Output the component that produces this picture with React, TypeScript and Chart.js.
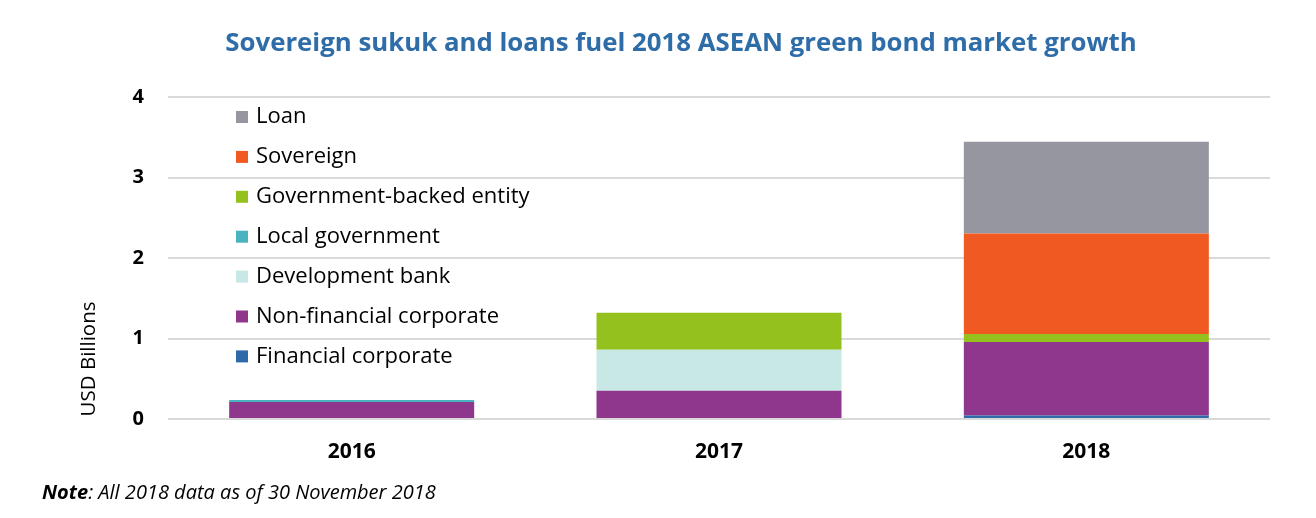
import React, { useEffect, useRef } from "react";
import { Chart, registerables } from "chart.js";

Chart.register(...registerables);

const categories = ["2016", "2017", "2018"];
const seriesNames = [
  "Financial corporate",
  "Non-financial corporate",
  "Development bank",
  "Local government",
  "Government-backed entity",
  "Sovereign",
  "Loan",
];
const financialCorporate = [0, 0, 0.045];
const nonFinancialCorporate = [0.21, 0.35, 0.91];
const developmentBank = [0, 0.51, 0];
const localGovernment = [0.025, 0, 0];
const governmentBacked = [0, 0.46, 0.1];
const sovereign = [0, 0, 1.25];
const loan = [0, 0, 1.14];
const yTicks = [0, 1, 2, 3, 4];
const colors = ["#2E69A8", "#8F378D", "#C8E8E6", "#4BB3BF", "#95C11F", "#F05A22", "#9696A0"];

const titleText = "Sovereign sukuk and loans fuel 2018 ASEAN green bond market growth";
const yAxisTitle = "USD Billions";

const FONT = "'Open Sans', Lato, sans-serif";

const overlayPlugin = {
  id: "overlay",
  afterDraw(chart: any) {
    const ctx = chart.ctx;
    const area = chart.chartArea;
    ctx.save();
    // Title
    ctx.fillStyle = "#2E6DA8";
    ctx.font = `bold 25.8px ${FONT}`;
    ctx.textAlign = "center";
    ctx.textBaseline = "middle";
    ctx.fillText(titleText, 681, 44);
    // Y axis title
    ctx.save();
    ctx.translate(89, 359);
    ctx.rotate(-Math.PI / 2);
    ctx.fillStyle = "#000";
    ctx.font = `20.5px ${FONT}`;
    ctx.textAlign = "center";
    ctx.textBaseline = "middle";
    ctx.fillText(yAxisTitle, 0, 0);
    ctx.restore();
    // Legend (reverse order)
    const ds = chart.data.datasets;
    ctx.font = `22px ${FONT}`;
    ctx.textAlign = "left";
    ctx.textBaseline = "middle";
    for (let i = ds.length - 1, k = 0; i >= 0; i--, k++) {
      const y = area.top + 20 + k * 39.9;
      ctx.fillStyle = ds[i].backgroundColor;
      ctx.fillRect(area.left + 68, y - 6, 12, 12);
      ctx.fillStyle = "#000";
      ctx.fillText(ds[i].label, area.left + 88, y);
    }
    // Note
    ctx.fillStyle = "#000";
    ctx.textBaseline = "middle";
    ctx.font = `italic bold 20px ${FONT}`;
    ctx.fillText("Note", 42, 493);
    const w = ctx.measureText("Note").width;
    ctx.font = `italic 20px ${FONT}`;
    ctx.fillText(": All 2018 data as of 30 November 2018", 42 + w, 493);
    ctx.restore();
  },
};

export default function App() {
  const ref = useRef<HTMLCanvasElement | null>(null);
  useEffect(() => {
    document.body.style.margin = "0";
    const seriesData = [
      financialCorporate,
      nonFinancialCorporate,
      developmentBank,
      localGovernment,
      governmentBacked,
      sovereign,
      loan,
    ];
    const chart = new Chart(ref.current as HTMLCanvasElement, {
      type: "bar",
      data: {
        labels: categories,
        datasets: seriesNames.map((name, i) => ({
          label: name,
          data: seriesData[i],
          backgroundColor: colors[i],
          borderWidth: 0,
          categoryPercentage: 1,
          barPercentage: 0.667,
        })),
      },
      options: {
        responsive: false,
        animation: false,
        devicePixelRatio: 1,
        layout: { padding: { top: 97, left: 0, right: 46, bottom: 0 } },
        plugins: { legend: { display: false }, title: { display: false }, tooltip: { enabled: false } },
        scales: {
          x: {
            stacked: true,
            grid: { display: false, drawTicks: false },
            border: { display: false },
            ticks: { color: "#000", font: { family: FONT, size: 21, weight: "bold" }, padding: 20 },
            afterFit: (s: any) => {
              s.height = 99;
            },
          },
          y: {
            stacked: true,
            min: 0,
            max: 4,
            afterBuildTicks: (s: any) => {
              s.ticks = yTicks.map((v) => ({ value: v }));
            },
            grid: { color: "#D9D9D9", lineWidth: 2, drawTicks: false },
            border: { display: false },
            ticks: { color: "#000", font: { family: FONT, size: 20, weight: "bold" }, padding: 24 },
            afterFit: (s: any) => {
              s.width = 168;
            },
          },
        },
      } as any,
      plugins: [overlayPlugin],
    });
    return () => chart.destroy();
  }, []);
  return (
    <div style={{ width: 1316, height: 518 }}>
      <canvas ref={ref} width={1316} height={518} />
    </div>
  );
}
